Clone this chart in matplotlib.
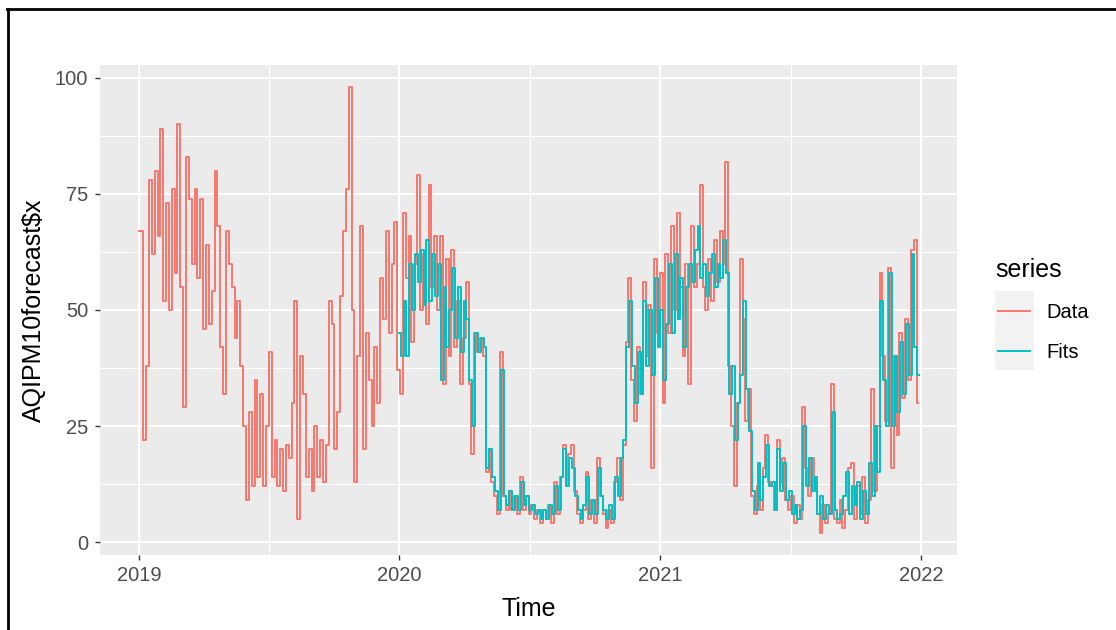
import matplotlib
matplotlib.use("Agg")
from matplotlib import pyplot as plt
from matplotlib.lines import Line2D
from matplotlib.patches import Rectangle
import numpy as np
import pandas as pd

plt.rcParams["font.family"] = ["Liberation Sans", "DejaVu Sans"]

W, H = 1116, 630

# readings every 4 days, taken off the chart
DATA_START = "2019-01-01"
FITS_START = "2020-01-01"
STEP = "4D"

data_values = [
    67, 67, 22, 38, 78, 62, 80, 66, 89, 52,
    73, 50, 76, 58, 90, 55, 29, 83, 74, 60,
    76, 57, 74, 46, 64, 47, 54, 80, 68, 42,
    32, 67, 60, 55, 44, 52, 38, 25, 9, 28,
    12, 35, 14, 32, 12, 25, 41, 14, 22, 12,
    20, 11, 21, 18, 30, 52, 5, 40, 32, 14,
    20, 11, 25, 14, 22, 13, 21, 52, 47, 20,
    28, 53, 67, 76, 98, 50, 13, 40, 68, 20,
    45, 35, 25, 42, 30, 57, 48, 67, 45, 60,
    69, 37, 32, 71, 57, 66, 43, 60, 79, 50,
    62, 47, 77, 55, 66, 50, 66, 34, 61, 40,
    63, 42, 52, 34, 44, 56, 34, 19, 45, 41,
    44, 40, 15, 20, 13, 10, 6, 41, 10, 7,
    11, 7, 10, 6, 14, 7, 10, 6, 8, 5,
    7, 4, 7, 5, 8, 4, 13, 6, 14, 21,
    12, 19, 21, 11, 6, 4, 7, 15, 5, 9,
    4, 18, 10, 6, 3, 7, 4, 13, 18, 9,
    21, 43, 57, 35, 26, 42, 32, 56, 40, 51,
    16, 61, 45, 58, 30, 62, 45, 68, 50, 71,
    55, 40, 60, 34, 68, 55, 60, 77, 55, 50,
    61, 52, 65, 56, 67, 60, 82, 38, 25, 12,
    30, 61, 48, 26, 33, 10, 6, 12, 7, 16,
    23, 13, 12, 7, 22, 13, 18, 9, 7, 10,
    4, 8, 5, 29, 16, 10, 18, 11, 6, 2,
    8, 4, 6, 34, 5, 4, 9, 3, 7, 16,
    17, 5, 12, 6, 14, 4, 9, 33, 11, 25,
    58, 40, 26, 59, 16, 40, 23, 45, 31, 48,
    35, 63, 65, 30,
]

fits_values = [
    45, 40, 52, 40, 60, 50, 62, 56, 63, 51,
    65, 52, 62, 53, 60, 35, 55, 42, 50, 59,
    44, 55, 41, 52, 48, 35, 25, 45, 41, 44,
    42, 16, 20, 14, 11, 7, 37, 10, 8, 11,
    7, 10, 7, 13, 8, 10, 7, 8, 6, 7,
    5, 7, 5, 8, 6, 12, 7, 14, 20, 12,
    18, 16, 10, 7, 5, 8, 14, 6, 9, 6,
    16, 10, 7, 5, 8, 5, 14, 10, 18, 22,
    42, 52, 38, 30, 41, 32, 52, 38, 50, 36,
    57, 42, 50, 35, 47, 60, 45, 62, 48, 57,
    42, 55, 60, 56, 63, 68, 57, 60, 53, 58,
    62, 55, 60, 57, 65, 58, 32, 38, 22, 30,
    36, 52, 33, 24, 11, 7, 17, 9, 14, 21,
    12, 13, 7, 20, 11, 17, 9, 11, 6, 8,
    5, 7, 25, 12, 18, 11, 14, 6, 10, 5,
    8, 6, 28, 7, 5, 6, 10, 15, 6, 12,
    8, 13, 5, 11, 6, 17, 10, 25, 15, 52,
    35, 25, 58, 25, 40, 28, 43, 32, 47, 36,
    62, 42, 36,
]

year_ticks = ["2019-01-01", "2020-01-01", "2021-01-01", "2022-01-01"]
year_labels = ["2019", "2020", "2021", "2022"]
y_ticks = [0, 25, 50, 75, 100]
series_names = ["Data", "Fits"]
series_colors = ["#F8766D", "#00BFC4"]


def fx(px):
    return px / W


def fy(py):
    return 1 - py / H


def main():
    data_dates = pd.date_range(DATA_START, periods=len(data_values), freq=STEP)
    fits_dates = pd.date_range(FITS_START, periods=len(fits_values), freq=STEP)

    fig = plt.figure(figsize=(W / 100, H / 100), dpi=100)
    ax = fig.add_axes([fx(100), fy(555), fx(957) - fx(100), fy(65) - fy(555)])
    ax.set_facecolor("#EBEBEB")
    for spine in ax.spines.values():
        spine.set_visible(False)

    # steps give the dense vertical look of the daily series
    ax.plot(data_dates, data_values, color=series_colors[0], lw=1.4,
            drawstyle="steps-mid")
    ax.plot(fits_dates, fits_values, color=series_colors[1], lw=1.4,
            drawstyle="steps-mid")

    # ggplot style 5% expansion
    x0, x1 = data_dates[0], data_dates[-1]
    xpad = (x1 - x0) * 0.05
    ax.set_xlim(x0 - xpad, x1 + xpad)
    all_vals = data_values + fits_values
    lo, hi = min(all_vals), max(all_vals)
    ypad = (hi - lo) * 0.05
    ax.set_ylim(lo - ypad, hi + ypad)

    major_x = pd.to_datetime(year_ticks)
    minor_x = [a + (b - a) / 2 for a, b in zip(major_x[:-1], major_x[1:])]
    ax.set_xticks(major_x)
    ax.set_xticklabels(year_labels)
    ax.set_xticks(minor_x, minor=True)
    ax.set_yticks(y_ticks)
    ax.set_yticks([(a + b) / 2 for a, b in zip(y_ticks[:-1], y_ticks[1:])], minor=True)

    ax.grid(which="major", color="white", lw=1.5)
    ax.grid(which="minor", color="white", lw=0.75)
    ax.set_axisbelow(True)
    ax.tick_params(which="major", length=3.6, width=1, color="#333333",
                   labelcolor="#4D4D4D", labelsize=14.5)
    ax.tick_params(axis="x", pad=4)
    ax.tick_params(axis="y", pad=5)
    ax.tick_params(which="minor", length=0)

    ax.set_xlabel("Time", fontsize=18, labelpad=9)
    ax.set_ylabel("AQIPM10forecast$x", fontsize=18, labelpad=6)

    # legend, drawn by hand like ggplot's guide
    fig.text(fx(995), fy(270), "series", fontsize=18, va="center", ha="left")
    fig.add_artist(Rectangle((fx(995), fy(370)), fx(1034) - fx(995), fy(291) - fy(370),
                             transform=fig.transFigure, facecolor="#F2F2F2",
                             edgecolor="none"))
    for name, color, ypx in zip(series_names, series_colors, [311, 351]):
        fig.add_artist(Line2D([fx(998), fx(1030)], [fy(ypx), fy(ypx)],
                              transform=fig.transFigure, color=color, lw=1.4))
        fig.text(fx(1046), fy(ypx + 1), name, fontsize=14.5, va="center", ha="left")

    # black frame on the top and left edges
    fig.add_artist(Line2D([fx(7), 1], [fy(9), fy(9)], transform=fig.transFigure,
                          color="black", lw=2))
    fig.add_artist(Line2D([fx(8), fx(8)], [0, fy(9)], transform=fig.transFigure,
                          color="black", lw=2))

    fig.savefig("out.png", dpi=100)


if __name__ == "__main__":
    main()
